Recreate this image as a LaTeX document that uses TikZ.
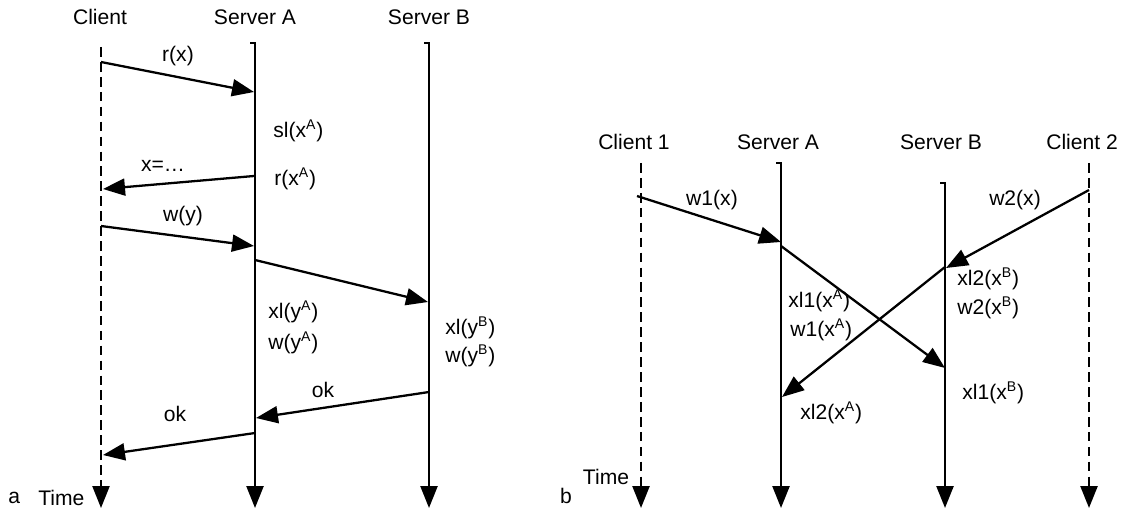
\documentclass[tikz,border=0pt]{standalone}
\usepackage{fontspec}
\setmainfont{Liberation Sans}
\usetikzlibrary{arrows.meta}

\tikzset{
  life/.style={line width=1.4pt,-{Triangle[length=4.4mm,width=3.4mm]}},
  lifed/.style={life,dash pattern=on 5.5pt off 3pt},
  msg/.style={line width=1.3pt,-{Triangle[length=4.4mm,width=3.4mm]}},
  lbl/.style={font=\fontsize{12}{14}\selectfont,inner sep=0pt},
}
\newcommand{\srv}[1]{\textsuperscript{#1}}

\begin{document}
\begin{tikzpicture}[x=0.02cm,y=-0.02cm]
  \useasboundingbox (0,0) rectangle (1124,513);

  % (a) client, server A, server B
  \node[lbl] (hca) at (100,17) {Client};
  \node[lbl] (haa) at (255,17) {Server A};
  \node[lbl] (hba) at (429,17) {Server B};
  \coordinate (ca0) at (101,47);  \coordinate (ca1) at (101,508);
  \draw[lifed] (ca0) -- (ca1);
  \foreach \n/\x in {aa/255,ba/429} {
    \coordinate (\n0) at (\x,43); \coordinate (\n1) at (\x,508);
    \draw[life] (\n0) ++(-5,0) -- (\n0) -- (\n1);
  }
  % messages
  \coordinate (m1s) at (101,62);  \coordinate (m1e) at (254,92);
  \coordinate (m2s) at (254,176); \coordinate (m2e) at (103,189);
  \coordinate (m3s) at (101,226); \coordinate (m3e) at (254,246);
  \coordinate (m4s) at (255,260); \coordinate (m4e) at (428,302);
  \coordinate (m5s) at (429,392); \coordinate (m5e) at (256,418);
  \coordinate (m6s) at (255,433); \coordinate (m6e) at (103,455);
  \foreach \m in {1,...,6} \draw[msg] (m\m s) -- (m\m e);
  \node[lbl] (rx)  at (178,56)  {r(x)};
  \node[lbl] (xeq) at (163,166) {x=\dots};
  \node[lbl] (wy)  at (183,216) {w(y)};
  \node[lbl] (okb) at (323,390) {ok};
  \node[lbl] (oka) at (175,414) {ok};
  \node[lbl,anchor=west] (slxa) at (273,131) {sl(x\srv{A})};
  \node[lbl,anchor=west] (rxa)  at (274,179) {r(x\srv{A})};
  \node[lbl,anchor=west] (xlya) at (268,312) {xl(y\srv{A})};
  \node[lbl,anchor=west] (wya)  at (268,343) {w(y\srv{A})};
  \node[lbl,anchor=west] (xlyb) at (445,328) {xl(y\srv{B})};
  \node[lbl,anchor=west] (wyb)  at (445,356) {w(y\srv{B})};
  \node[lbl,anchor=west] (capa) at (8,498)  {a};
  \node[lbl,anchor=west] (tima) at (38,498) {Time};

  % (b) two clients, server A, server B
  \node[lbl] (hc1) at (634,142)  {Client 1};
  \node[lbl] (hab) at (778,142)  {Server A};
  \node[lbl] (hbb) at (941,142)  {Server B};
  \node[lbl] (hc2) at (1082,142) {Client 2};
  \foreach \n/\x in {c1/641,c2/1089} {
    \coordinate (\n0) at (\x,163); \coordinate (\n1) at (\x,508);
    \draw[lifed] (\n0) -- (\n1);
  }
  \foreach \n/\x/\y in {ab/781/163,bb/945/183} {
    \coordinate (\n0) at (\x,\y); \coordinate (\n1) at (\x,508);
    \draw[life] (\n0) ++(-5,0) -- (\n0) -- (\n1);
  }
  % messages
  \coordinate (n1s) at (637,196);  \coordinate (n1e) at (781,242);
  \coordinate (n2s) at (781,246);  \coordinate (n2e) at (945,368);
  \coordinate (n3s) at (1089,190); \coordinate (n3e) at (946,268);
  \coordinate (n4s) at (945,267);  \coordinate (n4e) at (782,397);
  \foreach \m in {1,...,4} \draw[msg] (n\m s) -- (n\m e);
  \node[lbl] (w1x) at (712,200)  {w1(x)};
  \node[lbl] (w2x) at (1015,200) {w2(x)};
  \node[lbl,anchor=west] (xl1a) at (788,301) {xl1(x\srv{A})};
  \node[lbl,anchor=west] (w1a)  at (790,330) {w1(x\srv{A})};
  \node[lbl,anchor=west] (xl2a) at (800,413) {xl2(x\srv{A})};
  \node[lbl,anchor=west] (xl2b) at (957,279) {xl2(x\srv{B})};
  \node[lbl,anchor=west] (w2b)  at (957,308) {w2(x\srv{B})};
  \node[lbl,anchor=west] (xl1b) at (962,393) {xl1(x\srv{B})};
  \node[lbl] (timb) at (606,477) {Time};
  \node[lbl] (capb) at (566,496) {b};
\end{tikzpicture}
\end{document}
